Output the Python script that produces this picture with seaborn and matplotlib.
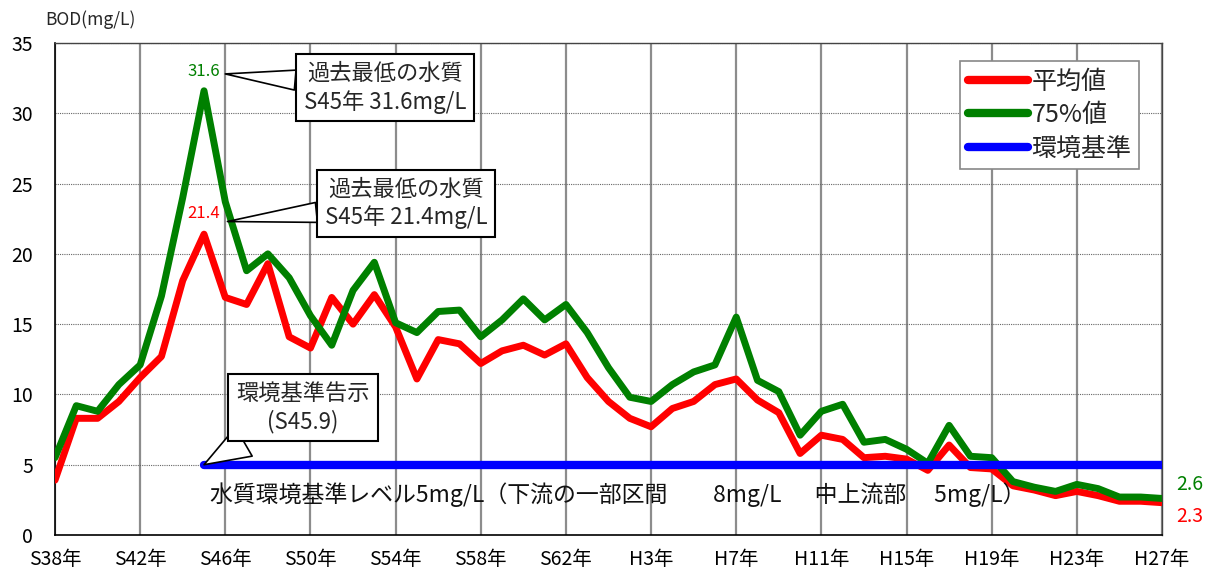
import matplotlib
matplotlib.use("Agg")
import numpy as np
import pandas as pd
import matplotlib.pyplot as plt
import seaborn as sns
from matplotlib.lines import Line2D

# data
years = list(range(1963, 2016))  # S38 .. H27
tick_years = list(range(1963, 2016, 4))
tick_labels = ["S38年", "S42年", "S46年", "S50年", "S54年", "S58年", "S62年",
               "H3年", "H7年", "H11年", "H15年", "H19年", "H23年", "H27年"]

mean_vals = [3.9, 8.3, 8.3, 9.5, 11.2, 12.7, 18.1, 21.4, 16.9, 16.4,
             19.3, 14.1, 13.3, 16.9, 15.0, 17.1, 14.8, 11.1, 13.9, 13.6,
             12.2, 13.1, 13.5, 12.8, 13.6, 11.2, 9.5, 8.3, 7.7, 9.0,
             9.5, 10.7, 11.1, 9.6, 8.7, 5.8, 7.1, 6.8, 5.5, 5.6,
             5.4, 4.6, 6.4, 4.8, 4.7, 3.5, 3.2, 2.8, 3.1, 2.8,
             2.4, 2.4, 2.3]
p75_vals = [5.5, 9.2, 8.8, 10.7, 12.1, 17.0, 24.0, 31.6, 23.7, 18.8,
            20.0, 18.3, 15.6, 13.5, 17.4, 19.4, 15.1, 14.4, 15.9, 16.0,
            14.1, 15.3, 16.8, 15.3, 16.4, 14.4, 11.9, 9.8, 9.5, 10.7,
            11.6, 12.1, 15.5, 11.0, 10.2, 7.1, 8.8, 9.3, 6.6, 6.8,
            6.1, 5.1, 7.8, 5.6, 5.5, 3.8, 3.4, 3.1, 3.6, 3.3,
            2.7, 2.7, 2.6]
std_start_year = 1970  # S45.9 notification
std_level = 5

series_names = ["平均値", "75%値", "環境基準"]
colors = {"平均値": "#ff0000", "75%値": "#008000", "環境基準": "#0000ff"}

df = pd.concat([
    pd.DataFrame({"year": years, "value": mean_vals, "series": "平均値"}),
    pd.DataFrame({"year": years, "value": p75_vals, "series": "75%値"}),
])
std_years = [y for y in years if y >= std_start_year]
df_std = pd.DataFrame({"year": std_years, "value": [std_level] * len(std_years)})

sns.set_style("white")
plt.rcParams["font.family"] = ["Noto Sans CJK JP", "DejaVu Sans"]

fig = plt.figure(figsize=(12.06, 5.72), dpi=100)
ax = fig.add_axes([55 / 1206, 1 - 535 / 572, 1107 / 1206, 492 / 572])

sns.lineplot(data=df, x="year", y="value", hue="series", hue_order=series_names[:2],
             palette=colors, linewidth=5, legend=False, ax=ax, zorder=3)
sns.lineplot(data=df_std, x="year", y="value", color=colors["環境基準"], linewidth=6,
             legend=False, ax=ax, zorder=4, solid_capstyle="round")

ax.set_xlim(years[0], years[-1])
ax.set_ylim(0, 35)
ax.set_yticks(range(0, 36, 5))
ax.set_xticks(tick_years)
ax.set_xticklabels(tick_labels)
ax.tick_params(axis="both", length=0, labelsize=14, colors="black")
ax.tick_params(axis="y", pad=16)
ax.tick_params(axis="x", pad=10)
ax.set_xlabel("")
ax.set_ylabel("")

ax.grid(axis="y", color="#666666", linestyle=(0, (1, 1)), linewidth=0.8)
ax.grid(axis="x", color="#8c8c8c", linestyle="-", linewidth=1.6)
ax.set_axisbelow(True)
for side in ["left", "bottom"]:
    ax.spines[side].set_color("black")
    ax.spines[side].set_linewidth(1.2)
for side in ["top", "right"]:
    ax.spines[side].set_color("#444444")
    ax.spines[side].set_linewidth(1.0)

fig.text(45 / 1206, 1 - 20 / 572, "BOD(mg/L)", ha="left", va="center", fontsize=12.5)

# peak labels
i_mean = int(np.argmax(mean_vals))
i_p75 = int(np.argmax(p75_vals))
ax.annotate(f"{p75_vals[i_p75]:.1f}", xy=(years[i_p75], p75_vals[i_p75]), xytext=(0, 14),
            textcoords="offset points", ha="center", va="center", fontsize=12,
            color=colors["75%値"])
ax.annotate(f"{mean_vals[i_mean]:.1f}", xy=(years[i_mean], mean_vals[i_mean]), xytext=(0, 15),
            textcoords="offset points", ha="center", va="center", fontsize=12,
            color=colors["平均値"])

# end labels
ax.annotate(f"{p75_vals[-1]:.1f}", xy=(years[-1], p75_vals[-1]), xytext=(20, 10),
            textcoords="offset points", ha="center", va="center", fontsize=14,
            color=colors["75%値"], annotation_clip=False)
ax.annotate(f"{mean_vals[-1]:.1f}", xy=(years[-1], mean_vals[-1]), xytext=(20, -10),
            textcoords="offset points", ha="center", va="center", fontsize=14,
            color=colors["平均値"], annotation_clip=False)

# callouts
box = dict(boxstyle="square,pad=0.35", fc="white", ec="black", lw=1.5)
wedge = dict(arrowstyle="wedge,tail_width=0.9,shrink_factor=0.5", fc="white", ec="black",
             lw=1.2, shrinkA=0, shrinkB=0)
wedge_wide = dict(arrowstyle="wedge,tail_width=1.5,shrink_factor=0.5", fc="white", ec="black",
                  lw=1.2, shrinkA=0, shrinkB=0)
ax.annotate(f"過去最低の水質\nS45年 {p75_vals[i_p75]:.1f}mg/L", xy=(1971.0, 32.8),
            xytext=(1978.5, 31.8), ha="center", va="center", fontsize=16, linespacing=1.25,
            bbox=box, arrowprops=wedge, zorder=6)
ax.annotate(f"過去最低の水質\nS45年 {mean_vals[i_mean]:.1f}mg/L", xy=(1971.1, 22.3),
            xytext=(1979.5, 23.6), ha="center", va="center", fontsize=16, linespacing=1.25,
            bbox=box, arrowprops=wedge, zorder=6)
ax.annotate("環境基準告示\n(S45.9)", xy=(std_start_year, std_level),
            xytext=(1974.65, 9.07), ha="center", va="center", fontsize=16, linespacing=1.25,
            bbox=box, arrowprops=wedge_wide, zorder=6, multialignment="center")

ax.text(1970.3, 2.9, "水質環境基準レベル5mg/L（下流の一部区間　　8mg/L　  中上流部　 5mg/L）",
        ha="left", va="center", fontsize=16.5, color="#111111", zorder=5)

handles = [Line2D([0], [0], color=colors[n], linewidth=6, solid_capstyle="round")
           for n in series_names]
leg = ax.legend(handles, series_names, loc="upper right", bbox_to_anchor=(0.979, 0.963),
                borderaxespad=0, fontsize=18, handlelength=2.4, handletextpad=0.15,
                labelspacing=0.3, fancybox=False, framealpha=1, borderpad=0.3)
leg.get_frame().set_edgecolor("#888888")
leg.get_frame().set_linewidth(1.2)
leg.set_zorder(7)

fig.savefig("out.png", dpi=100)
